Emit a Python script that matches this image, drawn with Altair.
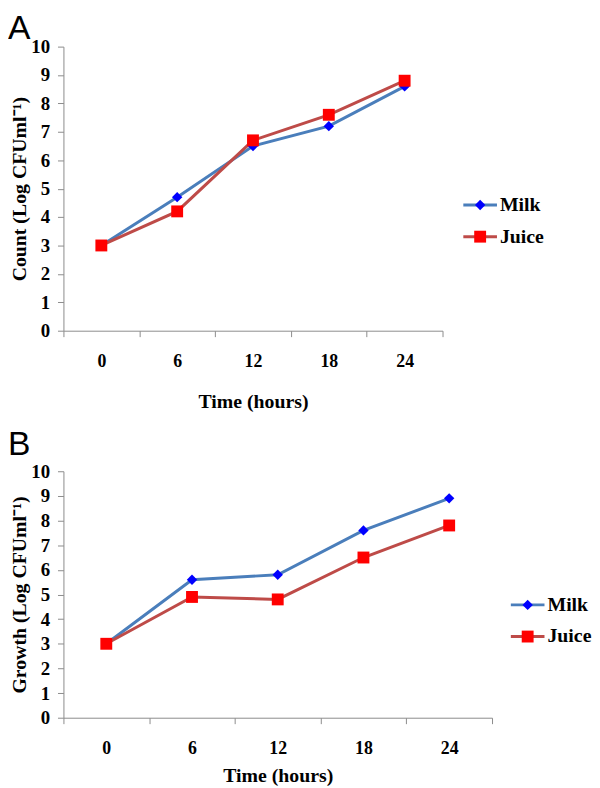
import altair as alt
import pandas as pd

hours = ["0", "6", "12", "18", "24"]
series = ["Milk", "Juice"]
milk_a = [3.0, 4.7, 6.5, 7.2, 8.6]
juice_a = [3.0, 4.2, 6.7, 7.6, 8.8]
milk_b = [3.0, 5.6, 5.8, 7.6, 8.9]
juice_b = [3.0, 4.9, 4.8, 6.5, 7.8]
y_ticks = list(range(0, 11))

line_colors = ["#4a7ebb", "#be4b48"]
marker_colors = ["#0000ff", "#ff0000"]
marker_shapes = ["diamond", "square"]
marker_sizes = [110, 144]

SERIF = "Liberation Serif"
GREY = "#8c8c8c"


def long_df(milk, juice):
    rows = []
    for name, vals in zip(series, [milk, juice]):
        for h, v in zip(hours, vals):
            rows.append({"Time": h, "Series": name, "Value": v})
    return pd.DataFrame(rows)


def panel(milk, juice, letter, y_title, width, height, legend_x, legend_y,
          letter_y, x_title_pad):
    df = long_df(milk, juice)
    x = alt.X(
        "Time:O", sort=hours,
        scale=alt.Scale(type="band", domain=hours, paddingInner=0, paddingOuter=0),
        axis=alt.Axis(title="Time (hours)", labelAngle=0, tickBand="extent",
                      tickSize=6, tickColor=GREY, domainColor=GREY,
                      labelFont=SERIF, labelFontSize=18, labelFontWeight="bold",
                      labelColor="black", labelPadding=16,
                      titleFont=SERIF, titleFontSize=20, titleFontWeight="bold",
                      titleColor="black", titlePadding=x_title_pad, grid=False),
    )
    y = alt.Y(
        "Value:Q", scale=alt.Scale(domain=[0, 10], nice=False),
        axis=alt.Axis(title=y_title, values=y_ticks, tickSize=6, tickColor=GREY,
                      domainColor=GREY, labelFont=SERIF, labelFontSize=19,
                      labelFontWeight="bold", labelColor="black", labelPadding=8,
                      titleFont=SERIF, titleFontSize=20, titleFontWeight="bold",
                      titleColor="black", titlePadding=1, grid=False),
    )
    stroke = alt.Stroke("Series:N", sort=series,
                        scale=alt.Scale(domain=series, range=line_colors), legend=None)
    fill = alt.Fill("Series:N", sort=series,
                    scale=alt.Scale(domain=series, range=marker_colors), legend=None)
    shape = alt.Shape("Series:N", sort=series,
                      scale=alt.Scale(domain=series, range=marker_shapes), legend=None)
    size = alt.Size("Series:O", sort=series,
                    scale=alt.Scale(domain=series, range=marker_sizes), legend=None)

    base = alt.Chart(df)
    lines = base.mark_line(strokeWidth=3).encode(x=x, y=y, stroke=stroke)
    points = base.mark_point(filled=True, opacity=1, strokeWidth=0).encode(
        x=x, y=y, fill=fill, shape=shape, size=size)

    leg_df = pd.DataFrame({"Series": series})
    leg_y = alt.Y("Series:N", sort=series,
                  scale=alt.Scale(type="point", domain=series, range=legend_y, padding=0),
                  axis=None)
    leg = alt.Chart(leg_df)
    leg_rule = leg.mark_rule(strokeWidth=3).encode(
        x=alt.value(legend_x), x2=alt.value(legend_x + 34), y=leg_y, stroke=stroke)
    leg_pt = leg.mark_point(filled=True, opacity=1, strokeWidth=0).encode(
        x=alt.value(legend_x + 17), y=leg_y, fill=fill, shape=shape, size=size)
    leg_txt = leg.mark_text(align="left", baseline="middle", font=SERIF, fontSize=20,
                            fontWeight="bold", color="black").encode(
        x=alt.value(legend_x + 37), y=leg_y, text="Series:N")

    let = alt.Chart(pd.DataFrame({"t": [letter]})).mark_text(
        align="left", baseline="alphabetic", font="Liberation Sans", fontSize=34,
        color="black").encode(x=alt.value(-56), y=alt.value(letter_y), text="t:N")

    return alt.layer(
        alt.layer(lines, points),
        alt.layer(leg_rule, leg_pt, leg_txt),
        let,
    ).resolve_scale(y="independent").properties(width=width, height=height)


panel_a = panel(milk_a, juice_a, "A", "Count (Log CFUml\u207b\u00b9)", 383, 287,
                404, [160, 192], -8, 22)
panel_b = panel(milk_b, juice_b, "B", "Growth (Log CFUml\u207b\u00b9)", 433, 249,
                452, [135, 167], -16, 8)

chart = alt.vconcat(panel_a, panel_b, spacing=17).properties(padding=0).configure_view(
    stroke=None)

chart.save("out.html", embed_options={"renderer": "svg", "actions": False})
